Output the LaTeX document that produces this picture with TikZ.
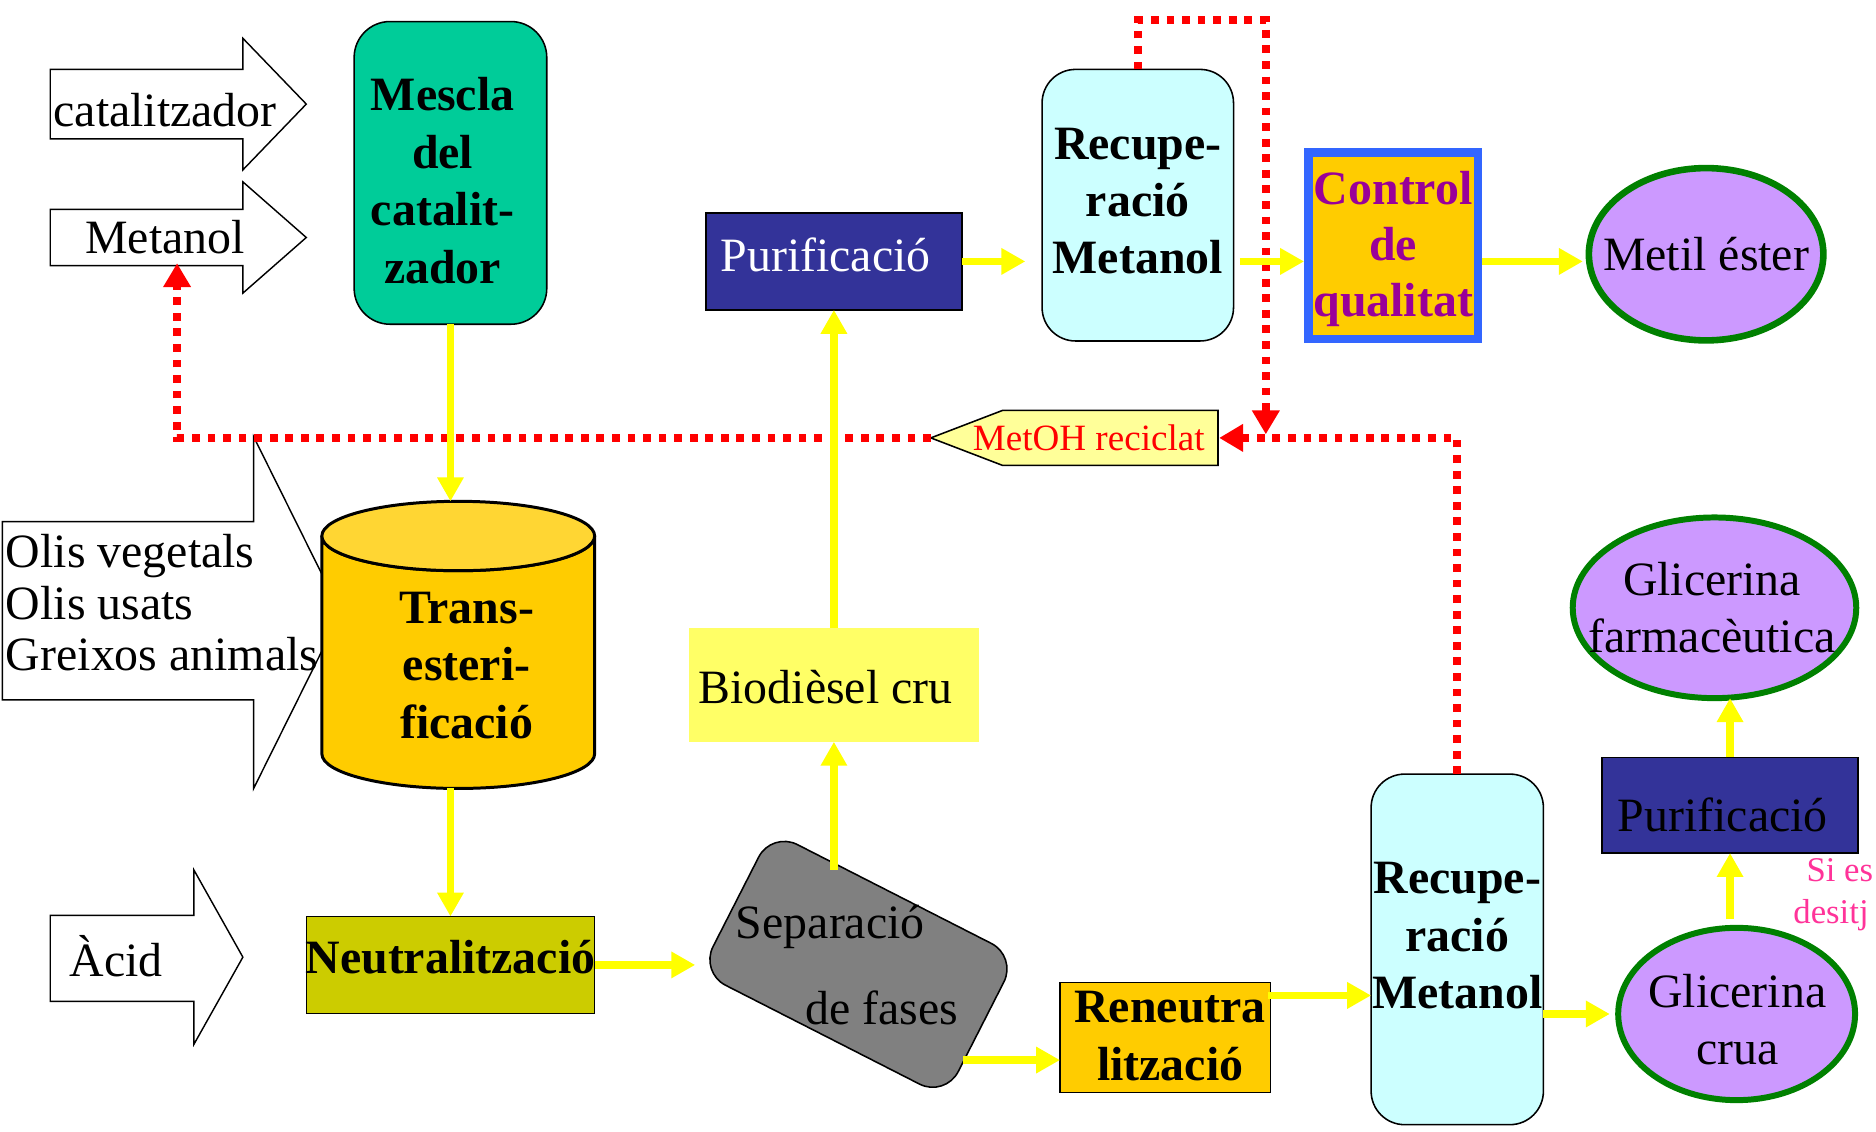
\documentclass[tikz,border=0pt]{standalone}
\usepackage{fontspec}
\setmainfont{Liberation Serif}
\usetikzlibrary{arrows.meta,shapes.geometric,calc}
\definecolor{mgreen}{HTML}{00CC99}
\definecolor{pblue}{HTML}{333399}
\definecolor{lcyan}{HTML}{CCFFFF}
\definecolor{gold}{HTML}{FFCC00}
\definecolor{goldtop}{HTML}{FFD633}
\definecolor{lilac}{HTML}{CC99FF}
\definecolor{dgreen}{HTML}{008000}
\definecolor{cblue}{HTML}{3366FF}
\definecolor{ctext}{HTML}{990099}
\definecolor{olivebox}{HTML}{CCCC00}
\definecolor{bioy}{HTML}{FFFF66}
\definecolor{metohy}{HTML}{FFFF99}
\definecolor{sgray}{HTML}{808080}
\definecolor{pinktxt}{HTML}{FF3399}
\definecolor{yline}{HTML}{FFFF00}
\definecolor{rline}{HTML}{FF0000}
\begin{document}
\begin{tikzpicture}[x=1pt,y=-1pt,
  every node/.style={inner sep=0pt, outer sep=0pt},
  txt/.style={font=\fontsize{40}{48}\selectfont, align=center},
  btxt/.style={font=\fontsize{40}{48}\selectfont\bfseries, align=center},
  ya/.style={draw=yline, line width=6pt, -{Triangle[length=20pt,width=21pt]}},
  rd/.style={draw=rline, line width=6.5pt, dash pattern=on 6.5pt off 6.5pt},
  rda/.style={rd, -{Triangle[length=20pt,width=22pt]}},
  inarrow/.style={draw=black, fill=white, line width=1.2pt},
  box/.style={draw=black, line width=1.3pt},
]
\useasboundingbox (0,0) rectangle (1568,946);
\clip (0,0) rectangle (1568,946);

% input arrows
\draw[inarrow] (42,58) -- (203,58) -- (203,32) -- (256,87) -- (203,142) -- (203,116) -- (42,116) -- cycle;
\node[txt] (catal) at (138,92) {catalitzador};
\draw[inarrow] (42,175) -- (203,175) -- (203,152) -- (256,198.5) -- (203,245) -- (203,222) -- (42,222) -- cycle;
\node[txt] (metin) at (138,198) {Metanol};
\coordinate (metanolIn) at (148,220);

\draw[inarrow] (2,436) -- (212,436) -- (212,365) -- (285,512) -- (212,659) -- (212,585) -- (2,585) -- cycle;
\node[font=\fontsize{40}{43}\selectfont, align=left, anchor=west] (olis) at (5,504) {Olis vegetals\\Olis usats\\Greixos animals};

\draw[inarrow] (42,765) -- (162,765) -- (162,727) -- (203,800) -- (162,873) -- (162,837) -- (42,837) -- cycle;
\node[txt] (acid) at (97,799) {Àcid};

% Mescla
\node[box, fill=mgreen, rounded corners=30pt, minimum width=161pt, minimum height=253pt] (mescla) at (376.5,144.5) {};
\node[btxt] (mesclat) at (370,151) {Mescla\\del\\catalit-\\zador};

% cylinder
\node[minimum width=228pt, minimum height=240pt] (cyl) at (383,539) {};
\draw[fill=gold, line width=2.5pt] (269,448) -- (269,630) arc[start angle=180, end angle=0, x radius=114, y radius=29] -- (497,448) arc[start angle=0, end angle=180, x radius=114, y radius=29] -- cycle;
\draw[fill=goldtop, line width=2.5pt] (383,448) ellipse[x radius=114, y radius=29];
\node[btxt] (cylt) at (390,556) {Trans-\\esteri-\\ficació};

% Neutralitzacio
\node[box, fill=olivebox, minimum width=241pt, minimum height=81pt] (neutr) at (376.5,806.5) {};
\node[btxt] (neutrt) at (376.5,800) {Neutralització};

% Separacio
\node[box, fill=sgray, rounded corners=24pt, minimum width=230pt, minimum height=132pt, rotate=-27] (sep) at (717.5,806) {};
\node[txt] (sept1) at (694,775) {Separació};
\node[txt] (sept2) at (737,842) {de fases};
\coordinate (sepTop) at (697,727);
\coordinate (sepOut) at (805,886);

% Biodiesel
\node[fill=bioy, minimum width=242pt, minimum height=95pt] (bio) at (697,572.5) {};
\node[txt] (biot) at (690,574) {Biodièsel cru};

% Purificacio top
\node[box, fill=pblue, minimum width=214pt, minimum height=81pt] (purif1) at (697,218.5) {};
\node[txt, text=white] (purif1t) at (690,213) {Purificació};

% Recuperacio top
\node[box, fill=lcyan, rounded corners=28pt, minimum width=160pt, minimum height=227pt] (recup1) at (951,171.5) {};
\node[btxt] (recup1t) at (951,168) {Recupe-\\ració\\Metanol};

% Control
\node[draw=cblue, line width=7pt, fill=gold, minimum width=142pt, minimum height=156pt] (ctrl) at (1164.5,205.5) {};
\node[font=\fontsize{40}{47}\selectfont\bfseries, align=center, text=ctext] (ctrlt) at (1164.5,208) {Control\\de\\qualitat};

% Metil ester
\node[ellipse, draw=dgreen, line width=5.5pt, fill=lilac, minimum width=196pt, minimum height=144pt] (metil) at (1426,212.5) {};
\node[txt] (metilt) at (1426,212) {Metil éster};

% MetOH reciclat
\draw[fill=metohy, line width=1.3pt] (778,366) -- (838,343) -- (1018,343) -- (1018,389) -- (838,389) -- cycle;
\node[font=\fontsize{31}{36}\selectfont, text=rline] (metoh) at (910,366) {MetOH reciclat};
\coordinate (metohTip) at (778,366);
\coordinate (metohR) at (1019,366);
\coordinate (metohDown) at (1058,363);

% Reneutralitzacio
\node[box, fill=gold, minimum width=176pt, minimum height=92pt] (reneu) at (974,867) {};
\node[btxt] (reneut) at (978,866) {Reneutra\\lització};
\coordinate (reneuOut) at (1060,832);

% Recuperacio bottom
\node[box, fill=lcyan, rounded corners=28pt, minimum width=144pt, minimum height=293pt] (recup2) at (1218,793.5) {};
\node[btxt] (recup2t) at (1218,782) {Recupe-\\ració\\Metanol};

% Glicerina crua
\node[ellipse, draw=dgreen, line width=5pt, fill=lilac, minimum width=198pt, minimum height=144pt] (glic) at (1451.5,847.5) {};
\node[txt] (glict) at (1452,852) {Glicerina\\crua};

% Purificacio bottom
\node[box, fill=pblue, minimum width=214pt, minimum height=80pt] (purif2) at (1446,673) {};
\node[txt] (purif2t) at (1440,681) {Purificació};

% Glicerina farmaceutica
\node[ellipse, draw=dgreen, line width=5pt, fill=lilac, minimum width=237pt, minimum height=151pt] (glfarm) at (1433,508) {};
\node[txt] (glfarmt) at (1431,508) {Glicerina\\farmacèutica};

% Si es desitj
\node[font=\fontsize{29}{34}\selectfont, text=pinktxt, anchor=west] (sies1) at (1510,727) {Si es};
\node[font=\fontsize{29}{34}\selectfont, text=pinktxt, anchor=west] (sies2) at (1499,765) {desitj};

% red dotted recycling
\draw[rda] (metohTip) -| (metanolIn);
\draw[rda] (recup2.north) |- (metohR);
\draw[rda] (recup1.north) -- ++(0,-41) -| (metohDown);

% yellow flow arrows
\draw[ya] (mescla.south) -- (mescla.south |- cyl.north);
\draw[ya] (neutr.north |- cyl.south) -- (neutr.north);
\draw[ya, shorten >=4pt] (neutr.east) -- (neutr.east -| sep.south west);
\draw[ya] (sepTop) -- (bio.south);
\draw[ya] (bio.north) -- (purif1.south);
\draw[ya, shorten >=14pt] (purif1.east) -- (purif1.east -| recup1.west);
\draw[ya, shorten <=5pt, shorten >=3.5pt] (recup1.east |- purif1.east) -- (ctrl.west |- purif1.east);
\draw[ya, shorten <=3.5pt, shorten >=5pt] (ctrl.east |- purif1.east) -- (metil.west |- purif1.east);
\draw[ya] (sepOut) -- (sepOut -| reneu.west);
\draw[ya] (reneuOut) -- (reneuOut -| recup2.west);
\draw[ya, shorten >=7pt] (recup2.east |- glic.west) -- (glic.west);
\draw[ya, shorten <=7pt] (purif2.south |- glic.north) -- (purif2.south);
\draw[ya] (purif2.north) -- (purif2.north |- glfarm.south);
\end{tikzpicture}
\end{document}
